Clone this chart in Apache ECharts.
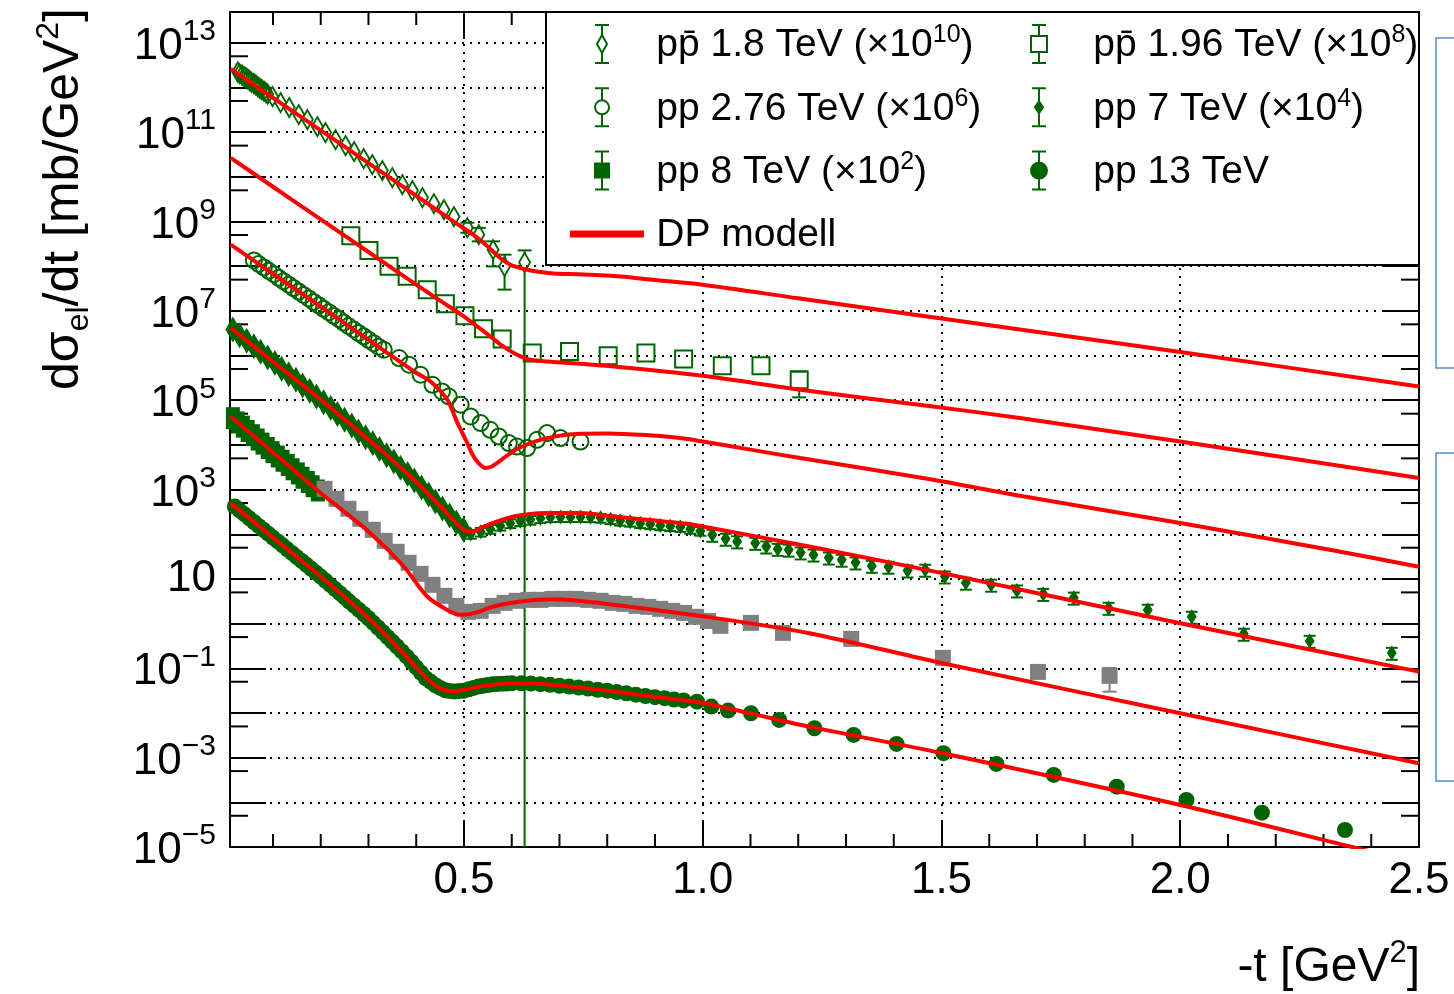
<!DOCTYPE html>
<html>
<head>
<meta charset="utf-8">
<script src="https://cdn.jsdelivr.net/npm/echarts@6/dist/echarts.min.js"></script>
<style>html,body{margin:0;padding:0;background:#fff}#c{width:1454px;height:994px}</style>
</head>
<body>
<div id="c"></div>
<script>
// ---------- axis ranges / ticks ----------
const X_MIN = 0.01, X_MAX = 2.5;
const Y_MIN = 1e-5, Y_MAX = Math.pow(10, 13.69);
const xMajorTicks = [0.5, 1.0, 1.5, 2.0, 2.5];
const xMinorTicks = [0.1,0.2,0.3,0.4,0.6,0.7,0.8,0.9,1.1,1.2,1.3,1.4,1.6,1.7,1.8,1.9,2.1,2.2,2.3,2.4];
const yMinorTicks = [5e-5,5e-4,5e-3,5e-2,5e-1,5,50,500,5e3,5e4,5e5,5e6,5e7,5e8,5e9,5e10,5e11,5e12];

// ---------- data: p-pbar 1.8 TeV (x1e10) ----------
const t18 = [0.026,0.030,0.035,0.039,0.043,0.047,0.051,0.055,0.060,0.064,0.068,0.072,0.076,0.081,0.085,0.089,0.099,0.116,0.134,0.154,0.172,0.193,0.210,0.231,0.252,0.270,0.290,0.308,0.329,0.350,0.371,0.392,0.413,0.437,0.458,0.479,0.507,0.531,0.561,0.585,0.627];
const v18 = [2.22e12,2.05e12,1.90e12,1.76e12,1.67e12,1.55e12,1.43e12,1.32e12,1.22e12,1.14e12,1.05e12,9.7e11,9.0e11,8.3e11,7.7e11,7.1e11,6.27e11,4.60e11,3.56e11,2.48e11,1.91e11,1.33e11,9.8e10,6.82e10,5.01e10,3.67e10,2.56e10,1.88e10,1.38e10,9.6e9,6.70e9,4.92e9,3.43e9,2.52e9,1.85e9,1.29e9,7.3e8,5.08e8,2.34e8,9.9e7,1.22e8];
const e18T  = [0.507,0.531,0.561,0.585,0.627];
const e18Lo = [5.6e8,3.6e8,9.9e7,2.99e7,0];
const e18Hi = [9.4e8,7.2e8,3.6e8,1.81e8,2.26e8];

// ---------- p-pbar 1.96 TeV (x1e8) ----------
const t196 = [0.263,0.301,0.343,0.381,0.423,0.461,0.502,0.541,0.580,0.643,0.721,0.802,0.881,0.960,1.041,1.122,1.202];
const v196 = [4.83e8,2.26e8,1.00e8,5.93e7,2.99e7,1.45e7,7.80e6,3.99e6,2.34e6,1.14e6,1.24e6,9.9e5,1.14e6,8.4e5,5.92e5,5.92e5,2.88e5];
const e196T = [1.202], e196Lo = [1.16e5], e196Hi = [4.35e5];

// ---------- pp 2.76 TeV (x1e6) ----------
const t276 = [0.060,0.070,0.081,0.091,0.102,0.112,0.122,0.133,0.143,0.154,0.164,0.175,0.185,0.196,0.206,0.217,0.227,0.238,0.248,0.258,0.269,0.279,0.290,0.300,0.311,0.321,0.332,0.364,0.385,0.409,0.434,0.454,0.468,0.493,0.514,0.535,0.555,0.573,0.594,0.611,0.632,0.653,0.674,0.702,0.744];
const v276 = [1.35e8,1.12e8,9.4e7,7.87e7,6.61e7,5.51e7,4.62e7,3.86e7,3.24e7,2.70e7,2.27e7,1.90e7,1.59e7,1.33e7,1.11e7,9.35e6,7.80e6,6.55e6,5.47e6,4.59e6,3.83e6,3.21e6,2.69e6,2.25e6,1.89e6,1.58e6,1.35e6,8.81e5,6.24e5,3.72e5,2.22e5,1.57e5,1.22e5,7.93e4,4.34e4,3.08e4,2.18e4,1.55e4,1.10e4,9.2e3,8.5e3,1.30e4,1.84e4,1.42e4,1.19e4];

// ---------- pp 7 TeV (x1e4) ----------
const t7a = [0.016,0.030,0.045,0.060,0.074,0.089,0.104,0.118,0.133,0.148,0.162,0.177,0.191,0.206,0.221,0.235,0.250,0.265,0.279,0.294,0.309,0.323,0.338,0.353,0.367,0.382,0.396,0.411,0.426,0.440,0.455,0.470,0.484,0.499];
const v7a = [3.81e6,2.86e6,2.14e6,1.61e6,1.21e6,9.0e5,6.78e5,5.10e5,3.82e5,2.86e5,2.14e5,1.61e5,1.21e5,9.0e4,6.68e4,4.93e4,3.66e4,2.71e4,2.0e4,1.48e4,1.09e4,8.1e3,5.89e3,4.26e3,3.08e3,2.22e3,1.60e3,1.11e3,776,541,378,263,183,128];
const t7b = [0.514,0.535,0.555,0.576,0.597,0.618,0.639,0.660,0.681,0.702,0.723,0.744,0.765,0.786,0.807,0.827,0.848,0.869,0.890,0.911,0.932,0.953,0.974,0.995,1.020,1.048,1.072,1.110,1.133,1.157,1.180,1.205,1.232,1.264,1.291,1.320,1.354,1.389,1.429,1.466,1.507,1.551,1.604,1.658,1.713,1.777,1.850,1.932,2.024,2.133,2.271,2.443];
const v7b = [102,114,132,155,176,195,210,228,239,242,242,242,239,233,216,200,190,176,167,158,151,145,132,119,97,79,69,64,53,47,45,39,35,30,26.8,23.3,19.6,18.7,15.4,16.0,11.3,8.2,7.4,5.5,4.6,3.8,2.25,2.03,1.42,0.59,0.41,0.221];
const e7Rel = [0.22,0.22,0.22,0.22,0.22,0.22,0.22,0.22,0.22,0.22,0.22,0.22,0.22,0.22,0.22,0.22,0.22,0.22,0.22,0.22,0.22,0.22,0.22,0.22,0.3,0.3,0.3,0.3,0.3,0.3,0.3,0.3,0.3,0.3,0.3,0.3,0.3,0.3,0.3,0.3,0.3,0.3,0.3,0.3,0.3,0.3,0.3,0.3,0.3,0.3,0.3,0.3];

// ---------- pp 8 TeV (x1e2) ----------
const t8a = [0.016,0.026,0.037,0.047,0.058,0.068,0.078,0.089,0.099,0.110,0.120,0.131,0.141,0.152,0.162,0.173,0.183,0.194];
const v8a = [3.97e4,3.18e4,2.56e4,2.05e4,1.65e4,1.32e4,1.07e4,8.55e3,6.89e3,5.51e3,4.42e3,3.56e3,2.85e3,2.30e3,1.84e3,1.48e3,1.19e3,955];
const t8b = [0.208,0.233,0.258,0.283,0.309,0.334,0.359,0.384,0.409,0.434,0.459,0.484,0.509,0.535,0.560,0.585,0.610,0.635,0.660,0.685,0.710,0.735,0.760,0.786,0.811,0.836,0.861,0.886,0.911,0.936,0.961,0.986,1.011,1.037,1.101,1.168,1.311,1.503,1.702,1.852];
const v8b = [1042,622,372,222,126,71.3,40.5,23.0,13.0,7.38,4.19,2.50,1.83,1.93,2.50,2.92,3.24,3.40,3.40,3.58,3.58,3.58,3.40,3.24,2.92,2.77,2.50,2.37,2.14,1.93,1.74,1.42,1.15,0.891,1.04,0.621,0.455,0.171,0.0830,0.0676];
const e8T = [1.852], e8Lo = [0.030], e8Hi = [0.102];

// ---------- pp 13 TeV ----------
const t13 = [0.02,0.03,0.04,0.05,0.06,0.07,0.08,0.09,0.10,0.11,0.12,0.13,0.14,0.15,0.16,0.17,0.18,0.19,0.20,0.21,0.22,0.23,0.24,0.25,0.26,0.27,0.28,0.29,0.30,0.31,0.32,0.33,0.34,0.35,0.36,0.37,0.38,0.39,0.40,0.41,0.42,0.43,0.44,0.45,0.46,0.47,0.48,0.49,0.50,0.51,0.52,0.53,0.54,0.55,0.56,0.57,0.58,0.59,0.60,0.62,0.64,0.66,0.68,0.70,0.72,0.74,0.76,0.78,0.80,0.82,0.84,0.86,0.88,0.90,0.92,0.94,0.96,0.988,1.018,1.053,1.101,1.160,1.234,1.316,1.406,1.504,1.615,1.735,1.867,2.013,2.171,2.345];
const v13 = [421,344,282,230,188,154,126,103,84.3,69.0,56.5,46.1,37.8,30.9,25.3,20.7,16.9,13.8,11.3,9.12,7.36,5.94,4.80,3.86,3.12,2.52,2.03,1.64,1.32,1.04,0.818,0.641,0.501,0.393,0.307,0.239,0.184,0.140,0.105,0.0794,0.0598,0.0501,0.0417,0.0363,0.0324,0.0309,0.0302,0.0309,0.0316,0.0339,0.0363,0.0389,0.0407,0.0422,0.0437,0.0447,0.0452,0.0457,0.0462,0.0463,0.0457,0.0442,0.0427,0.0407,0.0389,0.0372,0.0351,0.0331,0.0316,0.0295,0.0275,0.0257,0.0240,0.0226,0.0214,0.0200,0.0191,0.0179,0.0139,0.0113,0.00986,0.00698,0.00455,0.00322,0.00203,0.00126,7.23e-4,4.10e-4,2.24e-4,1.13e-4,5.86e-5,2.40e-5];

// ---------- DP model curves ----------
const mA_t = [0.0115,0.1,0.2,0.3,0.4,0.478,0.52,0.549,0.575,0.597,0.615,0.633,0.66,0.687,0.75,0.828,0.9,1.0,1.2,1.5,2.0,2.5];
const mA_v = [2.62e12,5.89e11,1.10e11,2.03e10,3.78e9,1.01e9,5.0e8,2.79e8,1.55e8,1.08e8,9.3e7,8.3e7,7.4e7,6.84e7,6.53e7,5.89e7,4.9e7,3.85e7,1.91e7,6.76e6,1.20e6,2.04e5];
const mB_t = [0.0115,0.1,0.2,0.3,0.4,0.45,0.4996,0.555,0.58,0.604,0.632,0.65,0.674,0.813,1.0,1.204,1.482,1.664,2.0,2.5];
const mB_v = [2.65e10,6.01e9,1.12e9,2.08e8,3.86e7,1.70e7,7.53e6,2.69e6,1.66e6,1.14e6,8.37e5,7.76e5,7.40e5,5.71e5,3.54e5,1.72e5,7.26e4,3.99e4,1.19e4,1.81e3];
const mC_t = [0.0115,0.1,0.2,0.325,0.4,0.43,0.465,0.486,0.507,0.518,0.53,0.545,0.557,0.569,0.59,0.618,0.674,0.744,0.80,0.88,0.953,1.0,1.1,1.204,1.483,1.664,2.0,2.313,2.5];
const mC_v = [3.04e8,6.78e7,1.24e7,1.47e6,4.13e5,2.64e5,1.03e5,3.16e4,1.10e4,6.0e3,3.98e3,3.03e3,3.24e3,3.93e3,5.75e3,8.85e3,1.42e4,1.78e4,1.80e4,1.66e4,1.42e4,1.19e4,7.85e3,5.08e3,1.66e3,726,178,44.9,18.7];
const mD_t = [0.0115,0.1,0.2,0.325,0.395,0.451,0.4996,0.52,0.541,0.604,0.674,0.744,0.813,0.953,1.0,1.223,1.502,2.0,2.5];
const mD_v = [4.14e6,7.29e5,1.03e5,7.78e3,1.66e3,419,126,116,149,249,298,298,249,178,149,53.2,13.5,1.02,0.0843];
const mE_t = [0.0115,0.1,0.2,0.304,0.374,0.423,0.465,0.493,0.5205,0.562,0.618,0.688,0.786,1.004,1.223,1.502,2.0,2.5];
const mE_v = [4.34e4,6.79e3,836,106,19.0,4.04,2.03,1.57,1.71,2.41,3.12,3.53,2.87,1.44,0.611,0.130,9.86e-3,7.50e-4];
const mF_t = [0.0115,0.1,0.2,0.3,0.35,0.4,0.43,0.45,0.47,0.49,0.52,0.55,0.6,0.65,0.7,0.8,0.9,1.0,1.1,1.223,1.5,2.0,2.371,2.5];
const mF_v = [499,84.3,11.3,1.32,0.393,0.105,0.0501,0.0355,0.0309,0.0316,0.0363,0.0417,0.0457,0.0452,0.0412,0.0316,0.0229,0.0168,0.00977,0.00494,0.00127,8.73e-5,9.35e-6,4.27e-6];

// ---------- names ----------
const N18 = 'pp\u0304 1.8 TeV (\u00d710^10)';
const N196 = 'pp\u0304 1.96 TeV (\u00d710^8)';
const N276 = 'pp 2.76 TeV (\u00d710^6)';
const N7 = 'pp 7 TeV (\u00d710^4)';
const N8 = 'pp 8 TeV (\u00d710^2)';
const N13 = 'pp 13 TeV';
const NDP = 'DP modell';

// ---------- styles ----------
const FONT = '"Liberation Sans", Arial, Helvetica, sans-serif';
const GREEN = '#006400', GRAY = '#808080', RED = '#ff0000';

const zip = (a, b) => a.map((x, i) => [x, b[i]]);
function errData(tArr, vArr, eT, eLo, eHi) {
  return eT.map((t, i) => [t, vArr[tArr.indexOf(t)], eLo[i], eHi[i]]);
}
function errRender(gap, cap, color) {
  return function (params, api) {
    const t = api.value(0), v = api.value(1), lo = api.value(2), hi = api.value(3);
    const pc = api.coord([t, v]);
    const ph = api.coord([t, hi]);
    const pl = api.coord([t, lo > 0 ? lo : 1e-9]);
    const st = { stroke: color, lineWidth: 2 };
    const ch = [
      { type: 'line', shape: { x1: ph[0], y1: ph[1], x2: ph[0], y2: Math.max(ph[1], pc[1] - gap) }, style: st },
      { type: 'line', shape: { x1: pl[0], y1: Math.min(pl[1], pc[1] + gap), x2: pl[0], y2: pl[1] }, style: st },
      { type: 'line', shape: { x1: ph[0] - cap, y1: ph[1], x2: ph[0] + cap, y2: ph[1] }, style: st }
    ];
    if (lo > 0) ch.push({ type: 'line', shape: { x1: pl[0] - cap, y1: pl[1], x2: pl[0] + cap, y2: pl[1] }, style: st });
    return { type: 'group', children: ch };
  };
}
const openStyle = { color: 'rgba(0,0,0,0)', borderColor: GREEN, borderWidth: 2, opacity: 1 };
const fillStyle = (c) => ({ color: c, borderColor: c, borderWidth: 0, opacity: 1 });

function modelSeries(t, v) {
  return { type: 'line', name: NDP, data: zip(t, v), showSymbol: false, symbol: 'none',
    smooth: 0.3, lineStyle: { color: RED, width: 4 }, itemStyle: { color: RED },
    z: 4, clip: true, silent: true };
}

// legend icons (80 x 40 boxes)
const BOX = 'M0 0M80 40';
const BARS = 'M24 1H38M24 39H38';
const icons = {
  [N18]: 'path://' + BOX + 'M31 0V11M31 29V40' + BARS + 'M31 11L36 20L31 29L26 20Z',
  [N196]: 'path://' + BOX + 'M31 0V12M31 28V40' + BARS + 'M23 12H39V28H23Z',
  [N276]: 'path://' + BOX + 'M31 0V13M31 27V40' + BARS + 'M24 20A7 7 0 1 1 38 20A7 7 0 1 1 24 20Z',
  [N7]: 'path://' + BOX + 'M31 0V40' + BARS + 'M31 14L35 20L31 26L27 20Z',
  [N8]: 'path://' + BOX + 'M31 0V40' + BARS + 'M24 13H38V27H24Z',
  [N13]: 'path://' + BOX + 'M31 0V40' + BARS + 'M23 20A8 8 0 1 1 39 20A8 8 0 1 1 23 20Z',
  [NDP]: 'path://' + BOX + 'M0 17.5H72V22.5H0Z'
};
const legendText = {
  [N18]: '{h| }{n|pp\u0304 1.8 TeV (\u00d710}{s|10}{n|)}',
  [N196]: '{h| }{n|pp\u0304 1.96 TeV (\u00d710}{s|8}{n|)}',
  [N276]: '{h| }{n|pp 2.76 TeV (\u00d710}{s|6}{n|)}',
  [N7]: '{h| }{n|pp 7 TeV (\u00d710}{s|4}{n|)}',
  [N8]: '{h| }{n|pp 8 TeV (\u00d710}{s|2}{n|)}',
  [N13]: '{h| }{n|pp 13 TeV}',
  [NDP]: '{h| }{n|DP modell}'
};
const legendItem = (name, open, color) => ({
  name, icon: icons[name],
  itemStyle: open ? { color: 'rgba(0,0,0,0)', borderColor: color, borderWidth: 2, opacity: 1 }
                  : { color: color, borderColor: color, borderWidth: 2, opacity: 1 }
});
const legendBase = {
  orient: 'vertical', top: 23, itemWidth: 80, itemHeight: 40, itemGap: 21.3, padding: 0,
  selectedMode: false, z: 8,
  formatter: (n) => legendText[n],
  textStyle: { color: '#000', fontFamily: FONT, fontSize: 39,
    rich: { h: { fontSize: 1, lineHeight: 42 },
            n: { fontFamily: FONT, fontSize: 39, lineHeight: 39, verticalAlign: 'bottom', color: '#000' },
            s: { fontFamily: FONT, fontSize: 25, lineHeight: 25, verticalAlign: 'top', color: '#000' } } }
};

const axisLineStyle = { color: '#000', width: 2 };
const gridLine = { show: true, lineStyle: { color: '#000', width: 2, type: [2, 6] } };

const yRich = {
  h: { fontSize: 1, lineHeight: 52 },
  m: { fontFamily: FONT, fontSize: 44, lineHeight: 44, verticalAlign: 'bottom', color: '#000' },
  s: { fontFamily: FONT, fontSize: 30, lineHeight: 30, verticalAlign: 'top', color: '#000' }
};
function yLabel(v) {
  const e = Math.round(Math.log10(v));
  if (Math.abs(e) % 2 !== 1) return '';
  if (e === 1) return '{m|10}';
  return '{h| }{m|10}{s|' + (e < 0 ? '\u2212' + (-e) : e) + '}';
}

const option = {
  animation: false,
  backgroundColor: '#fff',
  grid: { left: 230, right: 35, top: 12, bottom: 147, containLabel: false },
  xAxis: [
    { type: 'value', min: X_MIN, max: X_MAX, position: 'bottom',
      axisLine: { show: true, onZero: false, lineStyle: axisLineStyle },
      axisTick: { show: true, inside: true, length: 27, customValues: xMajorTicks, lineStyle: axisLineStyle },
      axisLabel: { show: true, customValues: xMajorTicks, formatter: (v) => v.toFixed(1), margin: 12,
        fontFamily: FONT, fontSize: 44, color: '#000' },
      splitLine: gridLine },
    { type: 'value', min: X_MIN, max: X_MAX, position: 'top',
      axisLine: { show: true, onZero: false, lineStyle: axisLineStyle },
      axisTick: { show: true, inside: true, length: 27, customValues: xMajorTicks, lineStyle: axisLineStyle },
      axisLabel: { show: false }, splitLine: { show: false } }
  ],
  yAxis: [
    { type: 'log', logBase: 10, min: Y_MIN, max: Y_MAX, interval: 1, position: 'left',
      axisLine: { show: true, onZero: false, lineStyle: axisLineStyle },
      axisTick: { show: true, inside: true, length: 36, lineStyle: axisLineStyle },
      axisLabel: { show: true, formatter: yLabel, rich: yRich, margin: 14, showMaxLabel: false },
      splitLine: gridLine },
    { type: 'log', logBase: 10, min: Y_MIN, max: Y_MAX, interval: 1, position: 'right',
      axisLine: { show: true, onZero: false, lineStyle: axisLineStyle },
      axisTick: { show: true, inside: true, length: 36, lineStyle: axisLineStyle },
      axisLabel: { show: false }, splitLine: { show: false } }
  ],
  legend: [
    Object.assign({}, legendBase, { left: 570,
      data: [legendItem(N18, true, GREEN), legendItem(N276, true, GREEN), legendItem(N8, false, GREEN), legendItem(NDP, false, RED)] }),
    Object.assign({}, legendBase, { left: 1007,
      data: [legendItem(N196, true, GREEN), legendItem(N7, false, GREEN), legendItem(N13, false, GREEN)] })
  ],
  graphic: [
    { type: 'rect', z: 7, shape: { x: 546, y: 12, width: 873, height: 253 },
      style: { fill: '#fff', stroke: '#000', lineWidth: 2 } },
    { type: 'rect', z: 7, shape: { x: 1436, y: 38, width: 60, height: 330 },
      style: { fill: 'none', stroke: '#4f8fd0', lineWidth: 1.5 } },
    { type: 'rect', z: 7, shape: { x: 1436, y: 453, width: 60, height: 328 },
      style: { fill: 'none', stroke: '#4f8fd0', lineWidth: 1.5 } },
    { type: 'text', z: 7, x: 64, y: 8, rotation: Math.PI / 2,
      style: { text: '{h| }{m|d\u03c3}{b|el}{m|/dt [mb/GeV}{p|2}{m|]}', align: 'right', verticalAlign: 'middle',
        rich: { h: { fontSize: 1, lineHeight: 62 },
                m: { fontFamily: FONT, fontSize: 50, lineHeight: 50, verticalAlign: 'middle', fill: '#000' },
                b: { fontFamily: FONT, fontSize: 32, lineHeight: 32, verticalAlign: 'bottom', fill: '#000' },
                p: { fontFamily: FONT, fontSize: 32, lineHeight: 32, verticalAlign: 'top', fill: '#000' } } } },
    { type: 'text', z: 7, x: 1420, y: 968,
      style: { text: '{h| }{m|-t [GeV}{p|2}{m|]}', align: 'right', verticalAlign: 'middle',
        rich: { h: { fontSize: 1, lineHeight: 60 },
                m: { fontFamily: FONT, fontSize: 48, lineHeight: 48, verticalAlign: 'middle', fill: '#000' },
                p: { fontFamily: FONT, fontSize: 31, lineHeight: 31, verticalAlign: 'top', fill: '#000' } } } }
  ],
  series: [
    // minor ticks
    { type: 'custom', name: 'yminor', silent: true, z: 1, data: yMinorTicks.map(v => [X_MIN, v]), encode: { x: 0, y: 1 },
      renderItem: (p, api) => {
        const v = api.value(1);
        const a = api.coord([X_MIN, v]), b = api.coord([X_MAX, v]);
        const st = { stroke: '#000', lineWidth: 2 };
        return { type: 'group', children: [
          { type: 'line', shape: { x1: a[0], y1: a[1], x2: a[0] + 18, y2: a[1] }, style: st },
          { type: 'line', shape: { x1: b[0] - 18, y1: b[1], x2: b[0], y2: b[1] }, style: st } ] };
      } },
    { type: 'custom', name: 'xminor', silent: true, z: 1, data: xMinorTicks.map(t => [t, Y_MIN]), encode: { x: 0, y: 1 },
      renderItem: (p, api) => {
        const t = api.value(0);
        const a = api.coord([t, Y_MIN]), b = api.coord([t, Y_MAX]);
        const st = { stroke: '#000', lineWidth: 2 };
        return { type: 'group', children: [
          { type: 'line', shape: { x1: a[0], y1: a[1] - 13, x2: a[0], y2: a[1] }, style: st },
          { type: 'line', shape: { x1: b[0], y1: b[1], x2: b[0], y2: b[1] + 13 }, style: st } ] };
      } },
    // error bars
    { type: 'custom', name: 'e18', silent: true, z: 2, clip: true, data: errData(t18, v18, e18T, e18Lo, e18Hi),
      encode: { x: 0, y: 1 }, renderItem: errRender(9, 7, GREEN) },
    { type: 'custom', name: 'e196', silent: true, z: 2, clip: true, data: errData(t196, v196, e196T, e196Lo, e196Hi),
      encode: { x: 0, y: 1 }, renderItem: errRender(8, 7, GREEN) },
    { type: 'custom', name: 'e7', silent: true, z: 2, clip: true,
      data: t7b.map((t, i) => [t, v7b[i], v7b[i] * (1 - e7Rel[i]), v7b[i] * (1 + e7Rel[i])]),
      encode: { x: 0, y: 1 }, renderItem: errRender(0, 6, GREEN) },
    { type: 'custom', name: 'e8', silent: true, z: 2, clip: true, data: errData(t8b, v8b, e8T, e8Lo, e8Hi),
      encode: { x: 0, y: 1 }, renderItem: errRender(0, 7, GRAY) },
    // data
    { type: 'scatter', name: N18, data: zip(t18, v18), symbol: 'diamond', symbolSize: [11, 19], itemStyle: openStyle, z: 3 },
    { type: 'scatter', name: N196, data: zip(t196, v196), symbol: 'rect', symbolSize: 17, itemStyle: openStyle, z: 3 },
    { type: 'scatter', name: N276, data: zip(t276, v276), symbol: 'circle', symbolSize: 16, itemStyle: openStyle, z: 3 },
    { type: 'scatter', name: N7, data: zip(t7a, v7a), symbol: 'diamond', symbolSize: [15, 26], itemStyle: fillStyle(GREEN), z: 3 },
    { type: 'scatter', name: N7, data: zip(t7b, v7b), symbol: 'diamond', symbolSize: [10, 15], itemStyle: fillStyle(GREEN), z: 3 },
    { type: 'scatter', name: N8, data: zip(t8a, v8a), symbol: 'rect', symbolSize: [14, 22], itemStyle: fillStyle(GREEN), z: 3 },
    { type: 'scatter', name: N8, data: zip(t8b, v8b), symbol: 'rect', symbolSize: 16, itemStyle: fillStyle(GRAY), z: 3 },
    { type: 'scatter', name: N13, data: zip(t13, v13), symbol: 'circle', symbolSize: 16, itemStyle: fillStyle(GREEN), z: 3 },
    // model curves
    modelSeries(mA_t, mA_v), modelSeries(mB_t, mB_v), modelSeries(mC_t, mC_v),
    modelSeries(mD_t, mD_v), modelSeries(mE_t, mE_v), modelSeries(mF_t, mF_v)
  ]
};

const chart = echarts.init(document.getElementById('c'), null, { renderer: 'canvas' });
chart.setOption(option);
</script>
</body>
</html>
